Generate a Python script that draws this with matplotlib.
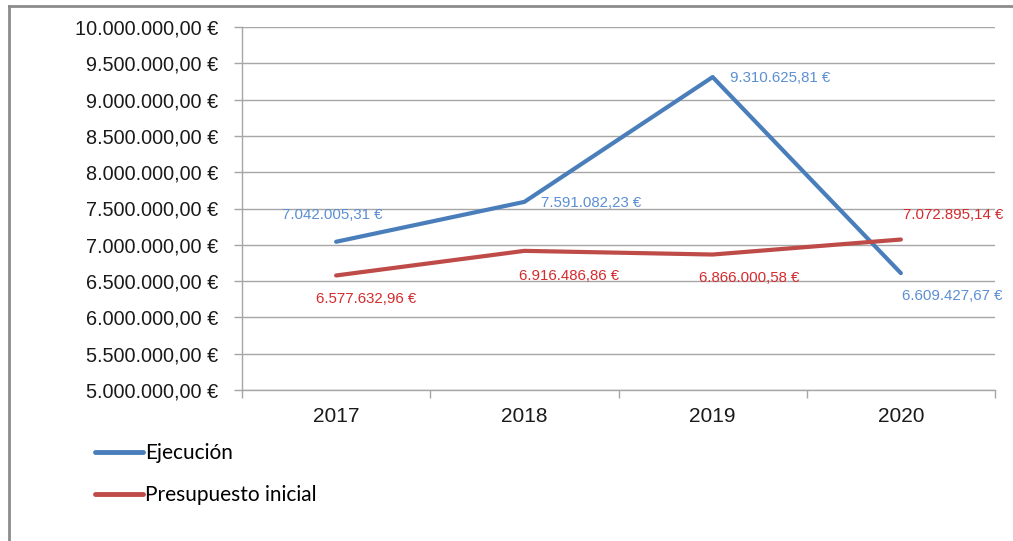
import matplotlib
matplotlib.use("Agg")
import matplotlib.pyplot as plt
from matplotlib.lines import Line2D
from matplotlib.ticker import FuncFormatter, FixedLocator

years = ["2017", "2018", "2019", "2020"]
ejecucion = [7042005.31, 7591082.23, 9310625.81, 6609427.67]
presupuesto = [6577632.96, 6916486.86, 6866000.58, 7072895.14]
series_names = ["Ejecución", "Presupuesto inicial"]

line_blue = "#4a7ebb"
line_red = "#be4b48"
text_blue = "#5b8fd3"
text_red = "#d42b2e"
grid_gray = "#a6a6a6"
sans = ["Liberation Sans", "DejaVu Sans"]


def euro(v, decimals=2):
    s = f"{v:,.{decimals}f}"
    s = s.replace(",", "X").replace(".", ",").replace("X", ".")
    return s + " €"


fig = plt.figure(figsize=(10.13, 5.41), dpi=100)
ax = fig.add_axes([242 / 1013, 1 - 390 / 541, 753 / 1013, 363 / 541])

x = list(range(1, len(years) + 1))
ax.plot(x, ejecucion, color=line_blue, lw=3, solid_capstyle="round", zorder=3)
ax.plot(x, presupuesto, color=line_red, lw=3, solid_capstyle="round", zorder=3)

ax.set_xlim(0.5, len(years) + 0.5)
ax.set_ylim(5000000, 10000000)
ax.yaxis.set_major_locator(FixedLocator([5000000 + 500000 * i for i in range(11)]))
ax.yaxis.set_major_formatter(FuncFormatter(lambda v, p: euro(v)))
ax.grid(axis="y", color=grid_gray, lw=1)
ax.set_axisbelow(True)

ax.set_xticks([i + 0.5 for i in range(len(years) + 1)])
ax.set_xticklabels([])
ax.set_xticks(x, minor=True)
ax.set_xticklabels(years, minor=True)
ax.tick_params(axis="x", which="minor", length=0, pad=12)
ax.tick_params(axis="x", which="major", length=6, color=grid_gray, width=1)
ax.tick_params(axis="y", length=6, color=grid_gray, width=1, pad=11)
for lab in ax.get_yticklabels():
    lab.set_family(sans)
    lab.set_fontsize(14.3)
    lab.set_color("#1a1a1a")
for lab in ax.get_xticklabels(minor=True):
    lab.set_family(sans)
    lab.set_fontsize(15)
    lab.set_color("#1a1a1a")

for side in ("top", "right"):
    ax.spines[side].set_visible(False)
for side in ("left", "bottom"):
    ax.spines[side].set_color(grid_gray)
    ax.spines[side].set_linewidth(1)

# data labels
blue_off = [(-4, 27, "center"), (17, -1, "left"), (17, -1, "left"), (1, -23, "left")]
red_off = [(-20, -24, "left"), (-5, -25, "left"), (-14, -23, "left"), (2, 25, "left")]
for xi, v, (dx, dy, ha) in zip(x, ejecucion, blue_off):
    ax.annotate(euro(v), (xi, v), xytext=(dx, dy), textcoords="offset pixels",
                ha=ha, va="center", color=text_blue, fontsize=10.8, family=sans,
                annotation_clip=False)
for xi, v, (dx, dy, ha) in zip(x, presupuesto, red_off):
    ax.annotate(euro(v), (xi, v), xytext=(dx, dy), textcoords="offset pixels",
                ha=ha, va="center", color=text_red, fontsize=10.8, family=sans,
                annotation_clip=False)

handles = [Line2D([], [], color=line_blue, lw=3.5, solid_capstyle="round"),
           Line2D([], [], color=line_red, lw=3.5, solid_capstyle="round")]
fig.legend(handles, series_names, loc="upper left", bbox_to_anchor=(95 / 1013, 1 - 443 / 541),
           frameon=False, prop={"family": "Lato", "size": 15}, handlelength=2.3,
           handletextpad=0.1, labelspacing=1.05, borderpad=0, borderaxespad=0)

# outer chart frame (cropped at right and bottom)
fig.add_artist(Line2D([9 / 1013, 9 / 1013], [0, 1 - 6 / 541], color="#8c8c8c", lw=2,
                      transform=fig.transFigure))
fig.add_artist(Line2D([9 / 1013, 1], [1 - 6 / 541, 1 - 6 / 541], color="#8c8c8c", lw=2,
                      transform=fig.transFigure))

fig.savefig("out.png", dpi=100)
